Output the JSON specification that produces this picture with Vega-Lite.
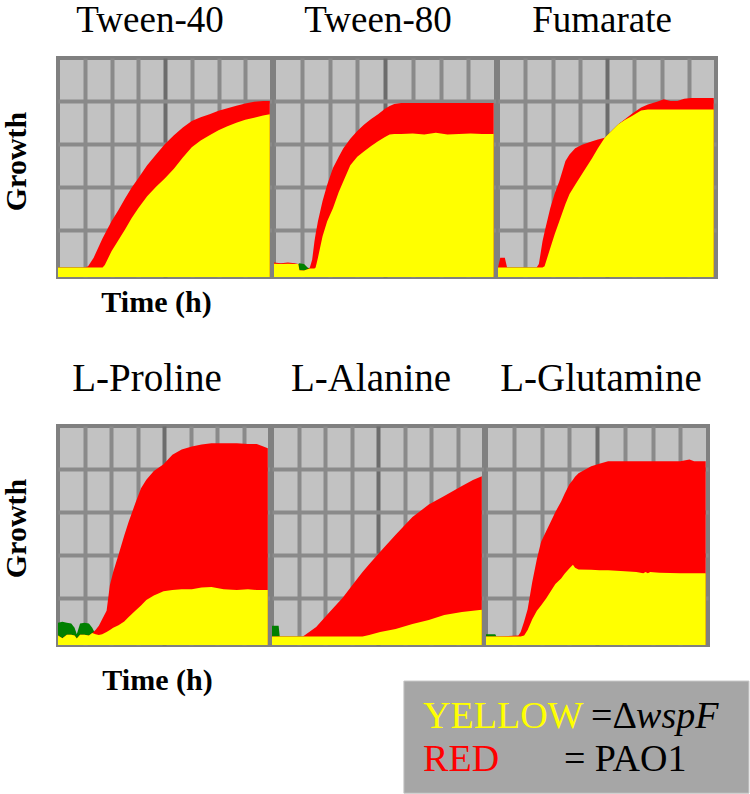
{
  "$schema": "https://vega.github.io/schema/vega-lite/v6.json",
  "background": "white",
  "padding": {"top": 0, "left": -1, "right": 0, "bottom": 0},
  "datasets": {
    "curves": [
      {"panel": "Tween-40", "hour": 0, "pao1": 0.12, "wspF": 0.12, "overlap": 0.12},
      {"panel": "Tween-40", "hour": 12, "pao1": 0.12, "wspF": 0.12, "overlap": 0.12},
      {"panel": "Tween-40", "hour": 13.5, "pao1": 0.15, "wspF": 0.12, "overlap": 0.12},
      {"panel": "Tween-40", "hour": 16, "pao1": 0.35, "wspF": 0.12, "overlap": 0.12},
      {"panel": "Tween-40", "hour": 20, "pao1": 0.8, "wspF": 0.12, "overlap": 0.12},
      {"panel": "Tween-40", "hour": 21, "pao1": 0.9, "wspF": 0.18, "overlap": 0.18},
      {"panel": "Tween-40", "hour": 24, "pao1": 1.2, "wspF": 0.5, "overlap": 0.5},
      {"panel": "Tween-40", "hour": 27, "pao1": 1.45, "wspF": 0.75, "overlap": 0.75},
      {"panel": "Tween-40", "hour": 30, "pao1": 1.72, "wspF": 1.0, "overlap": 1.0},
      {"panel": "Tween-40", "hour": 33, "pao1": 1.98, "wspF": 1.27, "overlap": 1.27},
      {"panel": "Tween-40", "hour": 36, "pao1": 2.2, "wspF": 1.5, "overlap": 1.5},
      {"panel": "Tween-40", "hour": 40, "pao1": 2.5, "wspF": 1.78, "overlap": 1.78},
      {"panel": "Tween-40", "hour": 44, "pao1": 2.75, "wspF": 2.0, "overlap": 2.0},
      {"panel": "Tween-40", "hour": 48, "pao1": 3.0, "wspF": 2.2, "overlap": 2.2},
      {"panel": "Tween-40", "hour": 52, "pao1": 3.2, "wspF": 2.42, "overlap": 2.42},
      {"panel": "Tween-40", "hour": 56, "pao1": 3.38, "wspF": 2.68, "overlap": 2.68},
      {"panel": "Tween-40", "hour": 60, "pao1": 3.53, "wspF": 2.92, "overlap": 2.92},
      {"panel": "Tween-40", "hour": 64, "pao1": 3.62, "wspF": 3.08, "overlap": 3.08},
      {"panel": "Tween-40", "hour": 68, "pao1": 3.69, "wspF": 3.2, "overlap": 3.2},
      {"panel": "Tween-40", "hour": 72, "pao1": 3.77, "wspF": 3.32, "overlap": 3.32},
      {"panel": "Tween-40", "hour": 76, "pao1": 3.83, "wspF": 3.41, "overlap": 3.41},
      {"panel": "Tween-40", "hour": 80, "pao1": 3.89, "wspF": 3.49, "overlap": 3.49},
      {"panel": "Tween-40", "hour": 84, "pao1": 3.94, "wspF": 3.56, "overlap": 3.56},
      {"panel": "Tween-40", "hour": 88, "pao1": 3.98, "wspF": 3.61, "overlap": 3.61},
      {"panel": "Tween-40", "hour": 92, "pao1": 4.0, "wspF": 3.66, "overlap": 3.66},
      {"panel": "Tween-40", "hour": 95, "pao1": 4.0, "wspF": 3.69, "overlap": 3.69},

      {"panel": "Tween-80", "hour": 0, "pao1": 0.24, "wspF": 0.21, "overlap": 0.21},
      {"panel": "Tween-80", "hour": 3, "pao1": 0.22, "wspF": 0.2, "overlap": 0.2},
      {"panel": "Tween-80", "hour": 6, "pao1": 0.24, "wspF": 0.21, "overlap": 0.21},
      {"panel": "Tween-80", "hour": 9, "pao1": 0.22, "wspF": 0.2, "overlap": 0.2},
      {"panel": "Tween-80", "hour": 10.5, "pao1": 0.2, "wspF": 0.2, "overlap": 0.2},
      {"panel": "Tween-80", "hour": 11, "pao1": 0.06, "wspF": 0.22, "overlap": 0.06},
      {"panel": "Tween-80", "hour": 13, "pao1": 0.05, "wspF": 0.2, "overlap": 0.05},
      {"panel": "Tween-80", "hour": 14.5, "pao1": 0.08, "wspF": 0.12, "overlap": 0.08},
      {"panel": "Tween-80", "hour": 15.5, "pao1": 0.12, "wspF": 0.1, "overlap": 0.1},
      {"panel": "Tween-80", "hour": 16.5, "pao1": 0.3, "wspF": 0.1, "overlap": 0.1},
      {"panel": "Tween-80", "hour": 17.5, "pao1": 0.73, "wspF": 0.1, "overlap": 0.1},
      {"panel": "Tween-80", "hour": 18, "pao1": 0.9, "wspF": 0.12, "overlap": 0.12},
      {"panel": "Tween-80", "hour": 19, "pao1": 1.2, "wspF": 0.35, "overlap": 0.35},
      {"panel": "Tween-80", "hour": 21, "pao1": 1.67, "wspF": 0.85, "overlap": 0.85},
      {"panel": "Tween-80", "hour": 23, "pao1": 2.05, "wspF": 1.2, "overlap": 1.2},
      {"panel": "Tween-80", "hour": 25.5, "pao1": 2.44, "wspF": 1.5, "overlap": 1.5},
      {"panel": "Tween-80", "hour": 28, "pao1": 2.7, "wspF": 1.88, "overlap": 1.88},
      {"panel": "Tween-80", "hour": 30, "pao1": 2.9, "wspF": 2.13, "overlap": 2.13},
      {"panel": "Tween-80", "hour": 33, "pao1": 3.12, "wspF": 2.5, "overlap": 2.5},
      {"panel": "Tween-80", "hour": 36, "pao1": 3.3, "wspF": 2.7, "overlap": 2.7},
      {"panel": "Tween-80", "hour": 39, "pao1": 3.45, "wspF": 2.83, "overlap": 2.83},
      {"panel": "Tween-80", "hour": 42, "pao1": 3.58, "wspF": 2.95, "overlap": 2.95},
      {"panel": "Tween-80", "hour": 45, "pao1": 3.69, "wspF": 3.06, "overlap": 3.06},
      {"panel": "Tween-80", "hour": 48, "pao1": 3.82, "wspF": 3.16, "overlap": 3.16},
      {"panel": "Tween-80", "hour": 50, "pao1": 3.88, "wspF": 3.22, "overlap": 3.22},
      {"panel": "Tween-80", "hour": 52, "pao1": 3.93, "wspF": 3.23, "overlap": 3.23},
      {"panel": "Tween-80", "hour": 55, "pao1": 3.95, "wspF": 3.23, "overlap": 3.23},
      {"panel": "Tween-80", "hour": 60, "pao1": 3.95, "wspF": 3.24, "overlap": 3.24},
      {"panel": "Tween-80", "hour": 65, "pao1": 3.95, "wspF": 3.22, "overlap": 3.22},
      {"panel": "Tween-80", "hour": 70, "pao1": 3.95, "wspF": 3.26, "overlap": 3.26},
      {"panel": "Tween-80", "hour": 75, "pao1": 3.95, "wspF": 3.22, "overlap": 3.22},
      {"panel": "Tween-80", "hour": 80, "pao1": 3.95, "wspF": 3.23, "overlap": 3.23},
      {"panel": "Tween-80", "hour": 85, "pao1": 3.95, "wspF": 3.24, "overlap": 3.24},
      {"panel": "Tween-80", "hour": 90, "pao1": 3.95, "wspF": 3.23, "overlap": 3.23},
      {"panel": "Tween-80", "hour": 95, "pao1": 3.95, "wspF": 3.23, "overlap": 3.23},

      {"panel": "Fumarate", "hour": 0, "pao1": 0.12, "wspF": 0.12, "overlap": 0.12},
      {"panel": "Fumarate", "hour": 1, "pao1": 0.35, "wspF": 0.12, "overlap": 0.12},
      {"panel": "Fumarate", "hour": 3, "pao1": 0.35, "wspF": 0.12, "overlap": 0.12},
      {"panel": "Fumarate", "hour": 4, "pao1": 0.12, "wspF": 0.12, "overlap": 0.12},
      {"panel": "Fumarate", "hour": 17, "pao1": 0.12, "wspF": 0.12, "overlap": 0.12},
      {"panel": "Fumarate", "hour": 18, "pao1": 0.2, "wspF": 0.12, "overlap": 0.12},
      {"panel": "Fumarate", "hour": 19.6, "pao1": 0.73, "wspF": 0.12, "overlap": 0.12},
      {"panel": "Fumarate", "hour": 20.5, "pao1": 0.95, "wspF": 0.15, "overlap": 0.15},
      {"panel": "Fumarate", "hour": 23, "pao1": 1.5, "wspF": 0.57, "overlap": 0.57},
      {"panel": "Fumarate", "hour": 25, "pao1": 1.85, "wspF": 0.9, "overlap": 0.9},
      {"panel": "Fumarate", "hour": 27, "pao1": 2.13, "wspF": 1.2, "overlap": 1.2},
      {"panel": "Fumarate", "hour": 29.7, "pao1": 2.6, "wspF": 1.6, "overlap": 1.6},
      {"panel": "Fumarate", "hour": 31.5, "pao1": 2.75, "wspF": 1.83, "overlap": 1.83},
      {"panel": "Fumarate", "hour": 34, "pao1": 2.9, "wspF": 2.05, "overlap": 2.05},
      {"panel": "Fumarate", "hour": 37, "pao1": 2.98, "wspF": 2.3, "overlap": 2.3},
      {"panel": "Fumarate", "hour": 41.5, "pao1": 3.06, "wspF": 2.67, "overlap": 2.67},
      {"panel": "Fumarate", "hour": 44, "pao1": 3.1, "wspF": 2.9, "overlap": 2.9},
      {"panel": "Fumarate", "hour": 47, "pao1": 3.14, "wspF": 3.14, "overlap": 3.14},
      {"panel": "Fumarate", "hour": 50, "pao1": 3.3, "wspF": 3.3, "overlap": 3.3},
      {"panel": "Fumarate", "hour": 53, "pao1": 3.46, "wspF": 3.46, "overlap": 3.46},
      {"panel": "Fumarate", "hour": 56, "pao1": 3.58, "wspF": 3.56, "overlap": 3.56},
      {"panel": "Fumarate", "hour": 59, "pao1": 3.7, "wspF": 3.65, "overlap": 3.65},
      {"panel": "Fumarate", "hour": 63, "pao1": 3.85, "wspF": 3.78, "overlap": 3.78},
      {"panel": "Fumarate", "hour": 66, "pao1": 3.92, "wspF": 3.8, "overlap": 3.8},
      {"panel": "Fumarate", "hour": 70, "pao1": 3.98, "wspF": 3.8, "overlap": 3.8},
      {"panel": "Fumarate", "hour": 73, "pao1": 4.04, "wspF": 3.8, "overlap": 3.8},
      {"panel": "Fumarate", "hour": 76, "pao1": 4.0, "wspF": 3.8, "overlap": 3.8},
      {"panel": "Fumarate", "hour": 79, "pao1": 4.0, "wspF": 3.8, "overlap": 3.8},
      {"panel": "Fumarate", "hour": 82, "pao1": 4.05, "wspF": 3.8, "overlap": 3.8},
      {"panel": "Fumarate", "hour": 85, "pao1": 4.07, "wspF": 3.8, "overlap": 3.8},
      {"panel": "Fumarate", "hour": 95, "pao1": 4.07, "wspF": 3.8, "overlap": 3.8},

      {"panel": "L-Proline", "hour": 0, "pao1": 0.12, "wspF": 0.42, "overlap": 0.12},
      {"panel": "L-Proline", "hour": 2, "pao1": 0.06, "wspF": 0.44, "overlap": 0.06},
      {"panel": "L-Proline", "hour": 4, "pao1": 0.14, "wspF": 0.42, "overlap": 0.14},
      {"panel": "L-Proline", "hour": 6, "pao1": 0.14, "wspF": 0.4, "overlap": 0.14},
      {"panel": "L-Proline", "hour": 7.5, "pao1": 0.12, "wspF": 0.3, "overlap": 0.12},
      {"panel": "L-Proline", "hour": 8.5, "pao1": 0.05, "wspF": 0.15, "overlap": 0.05},
      {"panel": "L-Proline", "hour": 10, "pao1": 0.14, "wspF": 0.4, "overlap": 0.14},
      {"panel": "L-Proline", "hour": 12, "pao1": 0.14, "wspF": 0.42, "overlap": 0.14},
      {"panel": "L-Proline", "hour": 14, "pao1": 0.12, "wspF": 0.4, "overlap": 0.12},
      {"panel": "L-Proline", "hour": 15.5, "pao1": 0.18, "wspF": 0.3, "overlap": 0.18},
      {"panel": "L-Proline", "hour": 17, "pao1": 0.25, "wspF": 0.15, "overlap": 0.15},
      {"panel": "L-Proline", "hour": 18.5, "pao1": 0.35, "wspF": 0.13, "overlap": 0.13},
      {"panel": "L-Proline", "hour": 20, "pao1": 0.5, "wspF": 0.15, "overlap": 0.15},
      {"panel": "L-Proline", "hour": 22, "pao1": 0.7, "wspF": 0.2, "overlap": 0.2},
      {"panel": "L-Proline", "hour": 23.5, "pao1": 1.3, "wspF": 0.25, "overlap": 0.25},
      {"panel": "L-Proline", "hour": 25, "pao1": 1.6, "wspF": 0.3, "overlap": 0.3},
      {"panel": "L-Proline", "hour": 27.4, "pao1": 2.0, "wspF": 0.36, "overlap": 0.36},
      {"panel": "L-Proline", "hour": 30, "pao1": 2.45, "wspF": 0.45, "overlap": 0.45},
      {"panel": "L-Proline", "hour": 32, "pao1": 2.77, "wspF": 0.55, "overlap": 0.55},
      {"panel": "L-Proline", "hour": 35, "pao1": 3.2, "wspF": 0.7, "overlap": 0.7},
      {"panel": "L-Proline", "hour": 37.6, "pao1": 3.55, "wspF": 0.82, "overlap": 0.82},
      {"panel": "L-Proline", "hour": 40, "pao1": 3.75, "wspF": 0.95, "overlap": 0.95},
      {"panel": "L-Proline", "hour": 43.4, "pao1": 3.95, "wspF": 1.05, "overlap": 1.05},
      {"panel": "L-Proline", "hour": 47.8, "pao1": 4.11, "wspF": 1.15, "overlap": 1.15},
      {"panel": "L-Proline", "hour": 51.8, "pao1": 4.33, "wspF": 1.18, "overlap": 1.18},
      {"panel": "L-Proline", "hour": 56, "pao1": 4.45, "wspF": 1.2, "overlap": 1.2},
      {"panel": "L-Proline", "hour": 60.6, "pao1": 4.52, "wspF": 1.2, "overlap": 1.2},
      {"panel": "L-Proline", "hour": 65, "pao1": 4.57, "wspF": 1.24, "overlap": 1.24},
      {"panel": "L-Proline", "hour": 69.5, "pao1": 4.6, "wspF": 1.25, "overlap": 1.25},
      {"panel": "L-Proline", "hour": 75, "pao1": 4.6, "wspF": 1.2, "overlap": 1.2},
      {"panel": "L-Proline", "hour": 81, "pao1": 4.6, "wspF": 1.18, "overlap": 1.18},
      {"panel": "L-Proline", "hour": 86, "pao1": 4.58, "wspF": 1.2, "overlap": 1.2},
      {"panel": "L-Proline", "hour": 90, "pao1": 4.58, "wspF": 1.18, "overlap": 1.18},
      {"panel": "L-Proline", "hour": 93, "pao1": 4.52, "wspF": 1.18, "overlap": 1.18},
      {"panel": "L-Proline", "hour": 95, "pao1": 4.48, "wspF": 1.18, "overlap": 1.18},

      {"panel": "L-Alanine", "hour": 0, "pao1": 0.1, "wspF": 0.35, "overlap": 0.1},
      {"panel": "L-Alanine", "hour": 3, "pao1": 0.1, "wspF": 0.35, "overlap": 0.1},
      {"panel": "L-Alanine", "hour": 3.5, "pao1": 0.1, "wspF": 0.1, "overlap": 0.1},
      {"panel": "L-Alanine", "hour": 14, "pao1": 0.1, "wspF": 0.1, "overlap": 0.1},
      {"panel": "L-Alanine", "hour": 20, "pao1": 0.32, "wspF": 0.1, "overlap": 0.1},
      {"panel": "L-Alanine", "hour": 26, "pao1": 0.66, "wspF": 0.1, "overlap": 0.1},
      {"panel": "L-Alanine", "hour": 32, "pao1": 1.0, "wspF": 0.1, "overlap": 0.1},
      {"panel": "L-Alanine", "hour": 38, "pao1": 1.4, "wspF": 0.1, "overlap": 0.1},
      {"panel": "L-Alanine", "hour": 41, "pao1": 1.6, "wspF": 0.1, "overlap": 0.1},
      {"panel": "L-Alanine", "hour": 44, "pao1": 1.78, "wspF": 0.13, "overlap": 0.13},
      {"panel": "L-Alanine", "hour": 49, "pao1": 2.07, "wspF": 0.2, "overlap": 0.2},
      {"panel": "L-Alanine", "hour": 56, "pao1": 2.47, "wspF": 0.27, "overlap": 0.27},
      {"panel": "L-Alanine", "hour": 63.6, "pao1": 2.88, "wspF": 0.39, "overlap": 0.39},
      {"panel": "L-Alanine", "hour": 71, "pao1": 3.17, "wspF": 0.48, "overlap": 0.48},
      {"panel": "L-Alanine", "hour": 78, "pao1": 3.37, "wspF": 0.6, "overlap": 0.6},
      {"panel": "L-Alanine", "hour": 86, "pao1": 3.6, "wspF": 0.67, "overlap": 0.67},
      {"panel": "L-Alanine", "hour": 91, "pao1": 3.74, "wspF": 0.7, "overlap": 0.7},
      {"panel": "L-Alanine", "hour": 95, "pao1": 3.83, "wspF": 0.72, "overlap": 0.72},

      {"panel": "L-Glutamine", "hour": 0, "pao1": 0.1, "wspF": 0.15, "overlap": 0.1},
      {"panel": "L-Glutamine", "hour": 4, "pao1": 0.1, "wspF": 0.15, "overlap": 0.1},
      {"panel": "L-Glutamine", "hour": 4.5, "pao1": 0.1, "wspF": 0.1, "overlap": 0.1},
      {"panel": "L-Glutamine", "hour": 14, "pao1": 0.12, "wspF": 0.1, "overlap": 0.1},
      {"panel": "L-Glutamine", "hour": 15, "pao1": 0.2, "wspF": 0.1, "overlap": 0.1},
      {"panel": "L-Glutamine", "hour": 16.5, "pao1": 0.45, "wspF": 0.12, "overlap": 0.12},
      {"panel": "L-Glutamine", "hour": 18, "pao1": 0.73, "wspF": 0.25, "overlap": 0.25},
      {"panel": "L-Glutamine", "hour": 20, "pao1": 1.37, "wspF": 0.5, "overlap": 0.5},
      {"panel": "L-Glutamine", "hour": 22, "pao1": 1.9, "wspF": 0.7, "overlap": 0.7},
      {"panel": "L-Glutamine", "hour": 23.8, "pao1": 2.3, "wspF": 0.82, "overlap": 0.82},
      {"panel": "L-Glutamine", "hour": 26, "pao1": 2.55, "wspF": 0.98, "overlap": 0.98},
      {"panel": "L-Glutamine", "hour": 28, "pao1": 2.77, "wspF": 1.15, "overlap": 1.15},
      {"panel": "L-Glutamine", "hour": 30, "pao1": 3.0, "wspF": 1.32, "overlap": 1.32},
      {"panel": "L-Glutamine", "hour": 32.5, "pao1": 3.24, "wspF": 1.45, "overlap": 1.45},
      {"panel": "L-Glutamine", "hour": 34, "pao1": 3.42, "wspF": 1.56, "overlap": 1.56},
      {"panel": "L-Glutamine", "hour": 36, "pao1": 3.64, "wspF": 1.68, "overlap": 1.68},
      {"panel": "L-Glutamine", "hour": 37.6, "pao1": 3.75, "wspF": 1.77, "overlap": 1.77},
      {"panel": "L-Glutamine", "hour": 38.5, "pao1": 3.82, "wspF": 1.7, "overlap": 1.7},
      {"panel": "L-Glutamine", "hour": 40, "pao1": 3.9, "wspF": 1.66, "overlap": 1.66},
      {"panel": "L-Glutamine", "hour": 45.5, "pao1": 4.06, "wspF": 1.65, "overlap": 1.65},
      {"panel": "L-Glutamine", "hour": 49, "pao1": 4.12, "wspF": 1.64, "overlap": 1.64},
      {"panel": "L-Glutamine", "hour": 52.8, "pao1": 4.18, "wspF": 1.64, "overlap": 1.64},
      {"panel": "L-Glutamine", "hour": 60, "pao1": 4.18, "wspF": 1.62, "overlap": 1.62},
      {"panel": "L-Glutamine", "hour": 65, "pao1": 4.18, "wspF": 1.6, "overlap": 1.6},
      {"panel": "L-Glutamine", "hour": 68, "pao1": 4.18, "wspF": 1.57, "overlap": 1.57},
      {"panel": "L-Glutamine", "hour": 69, "pao1": 4.18, "wspF": 1.6, "overlap": 1.6},
      {"panel": "L-Glutamine", "hour": 70, "pao1": 4.18, "wspF": 1.57, "overlap": 1.57},
      {"panel": "L-Glutamine", "hour": 71, "pao1": 4.18, "wspF": 1.6, "overlap": 1.6},
      {"panel": "L-Glutamine", "hour": 75, "pao1": 4.18, "wspF": 1.58, "overlap": 1.58},
      {"panel": "L-Glutamine", "hour": 84, "pao1": 4.18, "wspF": 1.57, "overlap": 1.57},
      {"panel": "L-Glutamine", "hour": 88, "pao1": 4.22, "wspF": 1.57, "overlap": 1.57},
      {"panel": "L-Glutamine", "hour": 90, "pao1": 4.18, "wspF": 1.57, "overlap": 1.57},
      {"panel": "L-Glutamine", "hour": 95, "pao1": 4.18, "wspF": 1.57, "overlap": 1.57}
    ]
  },
  "config": {
    "view": {"fill": "#c2c2c2", "stroke": "#808080", "strokeWidth": 4},
    "font": "Liberation Serif",
    "text": {"font": "Liberation Serif"},
    "mark": {"font": "Liberation Serif"},
    "title": {"font": "Liberation Serif", "fontSize": 37, "fontWeight": "normal", "color": "#000000", "baseline": "alphabetic", "offset": 18, "frame": "group", "anchor": "middle"},
    "axis": {
      "labels": false, "ticks": false, "domain": false, "grid": true,
      "gridWidth": 4, "gridOpacity": 1,
      "titleFont": "Liberation Serif", "titleFontSize": 30, "titleFontWeight": "bold", "titleColor": "#000000"
    }
  },
  "spacing": 39,
  "vconcat": [
    {
      "spacing": 2,
      "bounds": "flush",
      "hconcat": [
        {
          "width": 214, "height": 219,
          "title": {"text": "Tween-40", "dx": -15},
          "data": {"name": "curves"},
          "transform": [{"filter": "datum.panel === 'Tween-40'"}],
          "encoding": {"x": {"field": "hour", "type": "quantitative", "scale": {"domain": [0, 96], "nice": false, "zero": false},
            "axis": {"title": "Time (h)", "titleX": 98, "titleY": 34, "titleBaseline": "alphabetic", "titleAlign": "center", "values": [12, 24, 36, 48, 60, 72, 84], "gridColor": {"condition": {"test": "datum.value === 48", "value": "#6c6c6c"}, "value": "#8a8a8a"}}}},
          "layer": [
            {"mark": {"type": "area", "color": "#008000"}, "encoding": {"y": {"field": "wspF", "type": "quantitative", "scale": {"domain": [-0.1, 5], "nice": false, "zero": false},
              "axis": {"title": "Growth", "titleX": -33, "titleY": 103, "titleAngle": 270, "titleBaseline": "alphabetic", "titleAlign": "center", "values": [1, 2, 3, 4], "gridColor": "#8a8a8a"}}, "y2": {"datum": -0.1}}},
            {"mark": {"type": "area", "color": "#ff0000"}, "encoding": {"y": {"field": "pao1", "type": "quantitative",
              "axis": {"title": "Growth", "titleX": -33, "titleY": 103, "titleAngle": 270, "titleBaseline": "alphabetic", "titleAlign": "center", "values": [1, 2, 3, 4], "gridColor": "#8a8a8a"}}, "y2": {"datum": -0.1}}},
            {"mark": {"type": "area", "color": "#ffff00"}, "encoding": {"y": {"field": "overlap", "type": "quantitative",
              "axis": {"title": "Growth", "titleX": -33, "titleY": 103, "titleAngle": 270, "titleBaseline": "alphabetic", "titleAlign": "center", "values": [1, 2, 3, 4], "gridColor": "#8a8a8a"}}, "y2": {"datum": -0.1}}}
          ]
        },
        {
          "width": 222, "height": 219,
          "title": {"text": "Tween-80", "dx": -7},
          "data": {"name": "curves"},
          "transform": [{"filter": "datum.panel === 'Tween-80'"}],
          "encoding": {"x": {"field": "hour", "type": "quantitative", "scale": {"domain": [0, 96], "nice": false, "zero": false},
            "axis": {"title": null, "values": [12, 24, 36, 48, 60, 72, 84], "gridColor": {"condition": {"test": "datum.value === 48", "value": "#6c6c6c"}, "value": "#8a8a8a"}}}},
          "layer": [
            {"mark": {"type": "area", "color": "#008000"}, "encoding": {"y": {"field": "wspF", "type": "quantitative", "scale": {"domain": [-0.1, 5], "nice": false, "zero": false},
              "axis": {"title": null, "values": [1, 2, 3, 4], "gridColor": "#8a8a8a"}}, "y2": {"datum": -0.1}}},
            {"mark": {"type": "area", "color": "#ff0000"}, "encoding": {"y": {"field": "pao1", "type": "quantitative", "axis": {"title": null, "values": [1, 2, 3, 4], "gridColor": "#8a8a8a"}}, "y2": {"datum": -0.1}}},
            {"mark": {"type": "area", "color": "#ffff00"}, "encoding": {"y": {"field": "overlap", "type": "quantitative", "axis": {"title": null, "values": [1, 2, 3, 4], "gridColor": "#8a8a8a"}}, "y2": {"datum": -0.1}}}
          ]
        },
        {
          "width": 218, "height": 219,
          "title": {"text": "Fumarate", "dx": -5},
          "data": {"name": "curves"},
          "transform": [{"filter": "datum.panel === 'Fumarate'"}],
          "encoding": {"x": {"field": "hour", "type": "quantitative", "scale": {"domain": [0, 96], "nice": false, "zero": false},
            "axis": {"title": null, "values": [12, 24, 36, 48, 60, 72, 84], "gridColor": {"condition": {"test": "datum.value === 48", "value": "#6c6c6c"}, "value": "#8a8a8a"}}}},
          "layer": [
            {"mark": {"type": "area", "color": "#008000"}, "encoding": {"y": {"field": "wspF", "type": "quantitative", "scale": {"domain": [-0.1, 5], "nice": false, "zero": false},
              "axis": {"title": null, "values": [1, 2, 3, 4], "gridColor": "#8a8a8a"}}, "y2": {"datum": -0.1}}},
            {"mark": {"type": "area", "color": "#ff0000"}, "encoding": {"y": {"field": "pao1", "type": "quantitative", "axis": {"title": null, "values": [1, 2, 3, 4], "gridColor": "#8a8a8a"}}, "y2": {"datum": -0.1}}},
            {"mark": {"type": "area", "color": "#ffff00"}, "encoding": {"y": {"field": "overlap", "type": "quantitative", "axis": {"title": null, "values": [1, 2, 3, 4], "gridColor": "#8a8a8a"}}, "y2": {"datum": -0.1}}}
          ]
        }
      ]
    },
    {
      "spacing": 2,
      "bounds": "flush",
      "hconcat": [
        {
          "width": 212, "height": 219,
          "title": {"text": "L-Proline", "dx": -17, "offset": 27, "fontSize": 39},
          "data": {"name": "curves"},
          "transform": [{"filter": "datum.panel === 'L-Proline'"}],
          "encoding": {"x": {"field": "hour", "type": "quantitative", "scale": {"domain": [0, 96], "nice": false, "zero": false},
            "axis": {"title": "Time (h)", "titleX": 99, "titleY": 44, "titleBaseline": "alphabetic", "titleAlign": "center", "values": [12, 24, 36, 48, 60, 72, 84], "gridColor": {"condition": {"test": "datum.value === 48", "value": "#6c6c6c"}, "value": "#8a8a8a"}}}},
          "layer": [
            {"mark": {"type": "area", "color": "#008000"}, "encoding": {"y": {"field": "wspF", "type": "quantitative", "scale": {"domain": [-0.1, 5], "nice": false, "zero": false},
              "axis": {"title": "Growth", "titleX": -33, "titleY": 102, "titleAngle": 270, "titleBaseline": "alphabetic", "titleAlign": "center", "values": [1, 2, 3, 4], "gridColor": "#8a8a8a"}}, "y2": {"datum": -0.1}}},
            {"mark": {"type": "area", "color": "#ff0000"}, "encoding": {"y": {"field": "pao1", "type": "quantitative",
              "axis": {"title": "Growth", "titleX": -33, "titleY": 102, "titleAngle": 270, "titleBaseline": "alphabetic", "titleAlign": "center", "values": [1, 2, 3, 4], "gridColor": "#8a8a8a"}}, "y2": {"datum": -0.1}}},
            {"mark": {"type": "area", "color": "#ffff00"}, "encoding": {"y": {"field": "overlap", "type": "quantitative",
              "axis": {"title": "Growth", "titleX": -33, "titleY": 102, "titleAngle": 270, "titleBaseline": "alphabetic", "titleAlign": "center", "values": [1, 2, 3, 4], "gridColor": "#8a8a8a"}}, "y2": {"datum": -0.1}}}
          ]
        },
        {
          "width": 212, "height": 219,
          "title": {"text": "L-Alanine", "dx": -7, "offset": 27, "fontSize": 39},
          "data": {"name": "curves"},
          "transform": [{"filter": "datum.panel === 'L-Alanine'"}],
          "encoding": {"x": {"field": "hour", "type": "quantitative", "scale": {"domain": [0, 96], "nice": false, "zero": false},
            "axis": {"title": null, "values": [12, 24, 36, 48, 60, 72, 84], "gridColor": {"condition": {"test": "datum.value === 48", "value": "#6c6c6c"}, "value": "#8a8a8a"}}}},
          "layer": [
            {"mark": {"type": "area", "color": "#008000"}, "encoding": {"y": {"field": "wspF", "type": "quantitative", "scale": {"domain": [-0.1, 5], "nice": false, "zero": false},
              "axis": {"title": null, "values": [1, 2, 3, 4], "gridColor": "#8a8a8a"}}, "y2": {"datum": -0.1}}},
            {"mark": {"type": "area", "color": "#ff0000"}, "encoding": {"y": {"field": "pao1", "type": "quantitative", "axis": {"title": null, "values": [1, 2, 3, 4], "gridColor": "#8a8a8a"}}, "y2": {"datum": -0.1}}},
            {"mark": {"type": "area", "color": "#ffff00"}, "encoding": {"y": {"field": "overlap", "type": "quantitative", "axis": {"title": null, "values": [1, 2, 3, 4], "gridColor": "#8a8a8a"}}, "y2": {"datum": -0.1}}}
          ]
        },
        {
          "width": 222, "height": 219,
          "title": {"text": "L-Glutamine", "dx": 4, "offset": 27, "fontSize": 39},
          "data": {"name": "curves"},
          "transform": [{"filter": "datum.panel === 'L-Glutamine'"}],
          "encoding": {"x": {"field": "hour", "type": "quantitative", "scale": {"domain": [0, 96], "nice": false, "zero": false},
            "axis": {"title": null, "values": [12, 24, 36, 48, 60, 72, 84], "gridColor": {"condition": {"test": "datum.value === 48", "value": "#6c6c6c"}, "value": "#8a8a8a"}}}},
          "layer": [
            {"mark": {"type": "area", "color": "#008000"}, "encoding": {"y": {"field": "wspF", "type": "quantitative", "scale": {"domain": [-0.1, 5], "nice": false, "zero": false},
              "axis": {"title": null, "values": [1, 2, 3, 4], "gridColor": "#8a8a8a"}}, "y2": {"datum": -0.1}}},
            {"mark": {"type": "area", "color": "#ff0000"}, "encoding": {"y": {"field": "pao1", "type": "quantitative", "axis": {"title": null, "values": [1, 2, 3, 4], "gridColor": "#8a8a8a"}}, "y2": {"datum": -0.1}}},
            {"mark": {"type": "area", "color": "#ffff00"}, "encoding": {"y": {"field": "overlap", "type": "quantitative", "axis": {"title": null, "values": [1, 2, 3, 4], "gridColor": "#8a8a8a"}}, "y2": {"datum": -0.1}}},
            {"transform": [{"filter": "datum.hour === 0"}], "mark": {"type": "rect", "fill": "#a6a6a6", "stroke": "#c4c4c4", "strokeWidth": 1},
              "encoding": {"x": {"datum": -35.5, "type": "quantitative"}, "x2": {"datum": 113.7}, "y": {"datum": -0.94, "type": "quantitative"}, "y2": {"datum": -3.55}}},
            {"transform": [{"filter": "datum.hour === 0"}], "mark": {"type": "text", "text": "YELLOW", "color": "#ffff00", "font": "Liberation Serif", "fontWeight": "normal", "fontSize": 38, "align": "left", "baseline": "alphabetic"},
              "encoding": {"x": {"datum": -27.2, "type": "quantitative"}, "y": {"datum": -2.03, "type": "quantitative"}}},
            {"transform": [{"filter": "datum.hour === 0"}], "mark": {"type": "text", "text": "=Δ", "color": "#000000", "font": "Liberation Serif", "fontWeight": "normal", "fontSize": 38, "align": "left", "baseline": "alphabetic"},
              "encoding": {"x": {"datum": 45.4, "type": "quantitative"}, "y": {"datum": -2.03, "type": "quantitative"}}},
            {"transform": [{"filter": "datum.hour === 0"}], "mark": {"type": "text", "text": "wspF", "color": "#000000", "font": "Liberation Serif", "fontWeight": "normal", "fontStyle": "italic", "fontSize": 38, "align": "left", "baseline": "alphabetic"},
              "encoding": {"x": {"datum": 64.9, "type": "quantitative"}, "y": {"datum": -2.03, "type": "quantitative"}}},
            {"transform": [{"filter": "datum.hour === 0"}], "mark": {"type": "text", "text": "RED", "color": "#ff0000", "font": "Liberation Serif", "fontWeight": "normal", "fontSize": 38, "align": "left", "baseline": "alphabetic"},
              "encoding": {"x": {"datum": -27.2, "type": "quantitative"}, "y": {"datum": -3.03, "type": "quantitative"}}},
            {"transform": [{"filter": "datum.hour === 0"}], "mark": {"type": "text", "text": "= PAO1", "color": "#000000", "font": "Liberation Serif", "fontWeight": "normal", "fontSize": 38, "align": "left", "baseline": "alphabetic"},
              "encoding": {"x": {"datum": 33.7, "type": "quantitative"}, "y": {"datum": -3.03, "type": "quantitative"}}}
          ]
        }
      ]
    }
  ]
}
